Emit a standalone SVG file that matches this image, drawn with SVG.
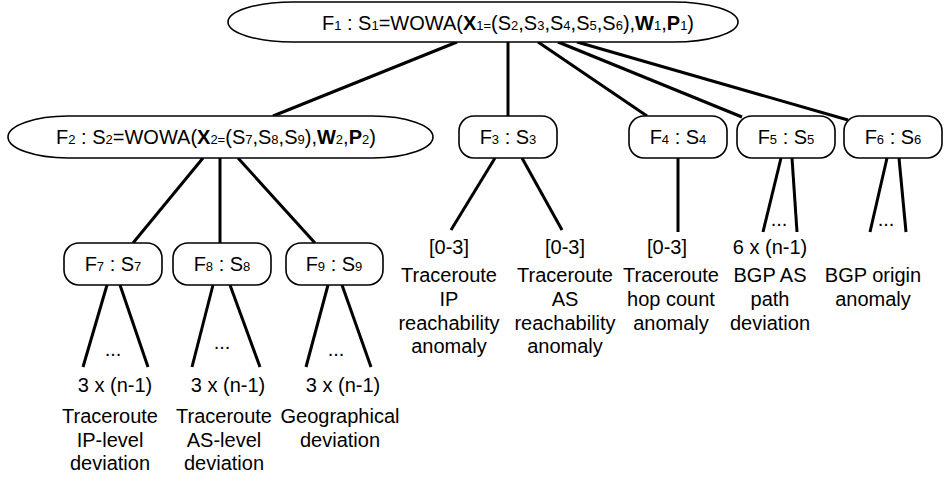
<svg xmlns="http://www.w3.org/2000/svg" width="944" height="480" viewBox="0 0 944 480">
<style>
text{font-family:"Liberation Sans",Arial,Helvetica,sans-serif;font-size:20px;fill:#000;text-anchor:middle}
.s{font-size:13px}
.b{font-weight:bold}
.node{fill:#fff;stroke:#000;stroke-width:1.6}
.edge{stroke:#000;stroke-width:3;fill:none;stroke-linecap:butt}
</style>
<rect width="944" height="480" fill="#fff"/>
<g id="connectors">
<line class="edge" x1="457" y1="42" x2="273" y2="116"/>
<line class="edge" x1="508" y1="42" x2="508" y2="116"/>
<line class="edge" x1="538" y1="42" x2="647" y2="116"/>
<line class="edge" x1="558" y1="42" x2="742" y2="117"/>
<line class="edge" x1="577" y1="42" x2="848" y2="120"/>
<line class="edge" x1="203" y1="158" x2="133" y2="243"/>
<line class="edge" x1="220" y1="158" x2="220" y2="243"/>
<line class="edge" x1="238" y1="158" x2="315" y2="243"/>
<line class="edge" x1="495" y1="158" x2="451" y2="230"/>
<line class="edge" x1="522" y1="158" x2="562" y2="230"/>
<line class="edge" x1="678" y1="158" x2="678" y2="232"/>
<line class="edge" x1="781" y1="158" x2="763" y2="232"/>
<line class="edge" x1="792" y1="158" x2="797" y2="232"/>
<line class="edge" x1="887" y1="158" x2="870" y2="232"/>
<line class="edge" x1="899" y1="158" x2="906" y2="232"/>
<line class="edge" x1="107" y1="285" x2="83" y2="367"/>
<line class="edge" x1="120" y1="285" x2="148" y2="367"/>
<line class="edge" x1="213" y1="285" x2="192" y2="367"/>
<line class="edge" x1="230" y1="285" x2="260" y2="367"/>
<line class="edge" x1="328" y1="285" x2="306" y2="367"/>
<line class="edge" x1="342" y1="285" x2="371" y2="367"/>
</g>
<g id="F1">
<rect class="node" x="228" y="2" width="510" height="40" rx="65" ry="20"/>
<text x="508" y="30">F<tspan class="s">1</tspan> : S<tspan class="s">1</tspan>=WOWA(<tspan class="b">X</tspan><tspan class="s">1=</tspan>(S<tspan class="s">2</tspan>,S<tspan class="s">3</tspan>,S<tspan class="s">4</tspan>,S<tspan class="s">5</tspan>,S<tspan class="s">6</tspan>),<tspan class="b">W</tspan><tspan class="s">1</tspan>,<tspan class="b">P</tspan><tspan class="s">1</tspan>)</text>
</g>
<g id="F2">
<rect class="node" x="8" y="116" width="425" height="42" rx="60" ry="21"/>
<text x="216" y="144">F<tspan class="s">2</tspan> : S<tspan class="s">2</tspan>=WOWA(<tspan class="b">X</tspan><tspan class="s">2=</tspan>(S<tspan class="s">7</tspan>,S<tspan class="s">8</tspan>,S<tspan class="s">9</tspan>),<tspan class="b">W</tspan><tspan class="s">2</tspan>,<tspan class="b">P</tspan><tspan class="s">2</tspan>)</text>
</g>
<g id="F3">
<rect class="node" x="459" y="116" width="98" height="42" rx="15" ry="15"/>
<text x="508" y="144">F<tspan class="s">3</tspan> : S<tspan class="s">3</tspan></text>
</g>
<g id="F4">
<rect class="node" x="629" y="116" width="98" height="42" rx="15" ry="15"/>
<text x="678" y="144">F<tspan class="s">4</tspan> : S<tspan class="s">4</tspan></text>
</g>
<g id="F5">
<rect class="node" x="737" y="116" width="98" height="42" rx="15" ry="15"/>
<text x="786" y="144">F<tspan class="s">5</tspan> : S<tspan class="s">5</tspan></text>
</g>
<g id="F6">
<rect class="node" x="844" y="116" width="98" height="42" rx="15" ry="15"/>
<text x="893" y="144">F<tspan class="s">6</tspan> : S<tspan class="s">6</tspan></text>
</g>
<g id="F7">
<rect class="node" x="64" y="243" width="98" height="42" rx="15" ry="15"/>
<text x="113" y="271">F<tspan class="s">7</tspan> : S<tspan class="s">7</tspan></text>
</g>
<g id="F8">
<rect class="node" x="173" y="243" width="98" height="42" rx="15" ry="15"/>
<text x="222" y="271">F<tspan class="s">8</tspan> : S<tspan class="s">8</tspan></text>
</g>
<g id="F9">
<rect class="node" x="286" y="243" width="97" height="42" rx="15" ry="15"/>
<text x="334" y="271">F<tspan class="s">9</tspan> : S<tspan class="s">9</tspan></text>
</g>
<g id="leaf-F7">
<text x="113" y="356">...</text>
<text x="115" y="392">3 x (n-1)</text>
<text x="110" y="423">Traceroute</text>
<text x="110" y="447">IP-level</text>
<text x="110" y="470">deviation</text>
</g>
<g id="leaf-F8">
<text x="222" y="349">...</text>
<text x="228" y="392">3 x (n-1)</text>
<text x="224" y="423">Traceroute</text>
<text x="224" y="447">AS-level</text>
<text x="224" y="470">deviation</text>
</g>
<g id="leaf-F9">
<text x="336" y="356">...</text>
<text x="343" y="392">3 x (n-1)</text>
<text x="340" y="423">Geographical</text>
<text x="340" y="447">deviation</text>
</g>
<g id="leaf-F3a">
<text x="449" y="254">[0-3]</text>
<text x="449" y="282">Traceroute</text>
<text x="449" y="306">IP</text>
<text x="449" y="330">reachability</text>
<text x="449" y="353">anomaly</text>
</g>
<g id="leaf-F3b">
<text x="565" y="254">[0-3]</text>
<text x="565" y="282">Traceroute</text>
<text x="565" y="306">AS</text>
<text x="565" y="330">reachability</text>
<text x="565" y="353">anomaly</text>
</g>
<g id="leaf-F4">
<text x="667" y="254">[0-3]</text>
<text x="671" y="282">Traceroute</text>
<text x="671" y="306">hop count</text>
<text x="671" y="330">anomaly</text>
</g>
<g id="leaf-F5">
<text x="779" y="226">...</text>
<text x="770" y="254">6 x (n-1)</text>
<text x="770" y="282">BGP AS</text>
<text x="770" y="306">path</text>
<text x="770" y="330">deviation</text>
</g>
<g id="leaf-F6">
<text x="886" y="226">...</text>
<text x="873" y="282">BGP origin</text>
<text x="873" y="306">anomaly</text>
</g>
</svg>
